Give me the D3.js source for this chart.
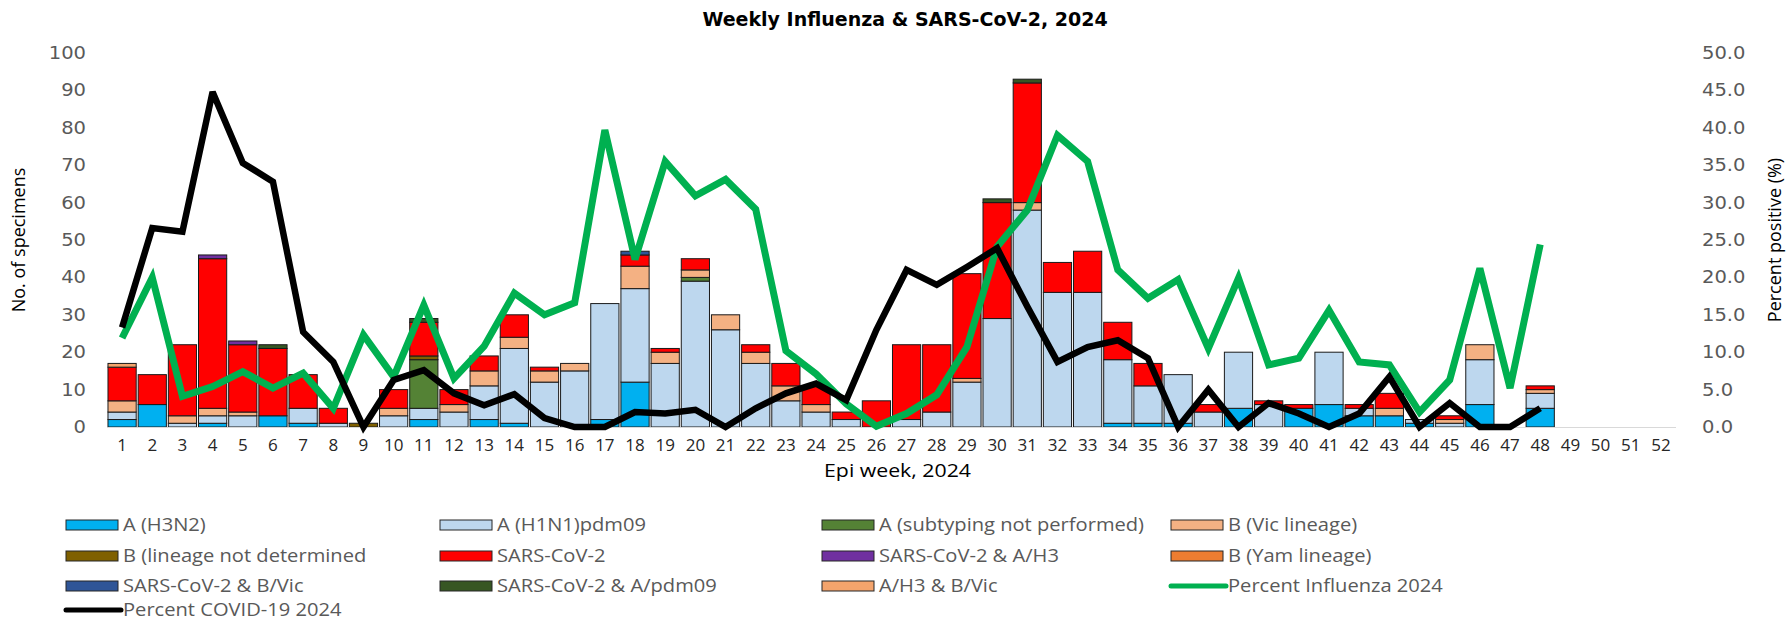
<!DOCTYPE html>
<html>
<head>
<meta charset="utf-8">
<script src="https://cdn.jsdelivr.net/npm/d3@7"></script>
<style>
  body { margin: 0; background: #fff; }
  svg { display: block; }
</style>
</head>
<body>
<svg id="chart" width="1791" height="623"></svg>
<script>
// Weekly influenza & SARS-CoV-2 specimens, 2024 (weeks 49-52 have no data yet)
const weeks = ["1","2","3","4","5","6","7","8","9","10","11","12","13","14","15","16","17","18","19","20",
  "21","22","23","24","25","26","27","28","29","30","31","32","33","34","35","36","37","38","39","40",
  "41","42","43","44","45","46","47","48","49","50","51","52"];

const h3n2      = [2,6,0,1,0,3,1,0,0,0,2,0,2,1,0,0,2,12,0,0,0,0,0,0,0,0,0,0,0,0,0,0,0,1,1,1,0,5,0,5,6,3,3,1,0,6,0,5];
const h1n1      = [2,0,1,2,3,0,4,1,0,3,3,4,9,20,12,15,31,25,17,39,26,17,7,4,2,0,2,4,12,29,58,36,36,17,10,13,4,15,6,0,14,2,0,1,1,12,0,4];
const aUnsub    = [0,0,0,0,0,0,0,0,0,0,13,0,0,0,0,0,0,0,0,1,0,0,0,0,0,0,0,0,0,0,0,0,0,0,0,0,0,0,0,0,0,0,0,0,0,0,0,0];
const bVic      = [3,0,2,2,1,0,0,0,0,2,0,2,4,3,3,2,0,6,3,2,4,3,4,2,0,0,0,0,1,0,2,0,0,0,0,0,0,0,0,0,0,0,2,0,1,4,0,1];
const bNd       = [0,0,0,0,0,0,0,0,1,0,1,0,0,0,0,0,0,0,0,0,0,0,0,0,0,0,0,0,0,0,0,0,0,0,0,0,0,0,0,0,0,0,0,0,0,0,0,0];
const sars      = [9,8,19,40,18,18,9,4,0,5,9,4,4,6,1,0,0,3,1,3,0,2,6,5,2,7,20,18,28,31,32,8,11,10,6,0,2,0,1,1,0,1,4,0,1,0,0,1];
const sarsH3    = [0,0,0,1,1,0,0,0,0,0,0,0,0,0,0,0,0,0,0,0,0,0,0,0,0,0,0,0,0,0,0,0,0,0,0,0,0,0,0,0,0,0,0,0,0,0,0,0];
const bYam      = [0,0,0,0,0,0,0,0,0,0,0,0,0,0,0,0,0,0,0,0,0,0,0,0,0,0,0,0,0,0,0,0,0,0,0,0,0,0,0,0,0,0,0,0,0,0,0,0];
const sarsBVic  = [0,0,0,0,0,0,0,0,0,0,0,0,0,0,0,0,0,1,0,0,0,0,0,0,0,0,0,0,0,0,0,0,0,0,0,0,0,0,0,0,0,0,0,0,0,0,0,0];
const sarsPdm   = [0,0,0,0,0,1,0,0,0,0,1,0,0,0,0,0,0,0,0,0,0,0,0,0,0,0,0,0,0,1,1,0,0,0,0,0,0,0,0,0,0,0,0,0,0,0,0,0];
const h3BVic    = [1,0,0,0,0,0,0,0,0,0,0,0,0,0,0,0,0,0,0,0,0,0,0,0,0,0,0,0,0,0,0,0,0,0,0,0,0,0,0,0,0,0,0,0,0,0,0,0];

const pctFlu    = [11.9,20.0,4.1,5.4,7.4,5.2,7.2,2.5,12.3,6.7,16.3,6.5,10.8,17.9,15.0,16.6,39.7,22.4,35.5,30.9,33.1,29.1,10.2,7.1,
                   3.1,0.1,1.8,4.3,10.7,24.1,29.0,39.0,35.5,21.0,17.2,19.7,10.5,19.9,8.3,9.2,15.6,8.7,8.3,2.0,6.3,21.2,5.2,24.4];
const pctCovid  = [13.3,26.6,26.1,44.8,35.3,32.8,12.7,8.7,0,6.3,7.6,4.5,2.9,4.4,1.2,0,0,2.0,1.8,2.3,0,2.5,4.5,5.8,
                   3.6,13.0,21.0,19.0,21.4,23.9,16.1,8.7,10.7,11.6,9.2,0,5.0,0,3.2,1.8,0,1.8,6.7,0,3.2,0,0,2.5];

const leftTicks  = [0,10,20,30,40,50,60,70,80,90,100];
const rightTicks = [0,5,10,15,20,25,30,35,40,45,50];

const barSeries = [
  { key: "h3n2",     name: "A (H3N2)",                      color: "#00B0F0", values: h3n2 },
  { key: "h1n1",     name: "A (H1N1)pdm09",                 color: "#BDD7EE", values: h1n1 },
  { key: "aUnsub",   name: "A (subtyping not performed)",   color: "#548235", values: aUnsub },
  { key: "bVic",     name: "B (Vic lineage)",               color: "#F4B183", values: bVic },
  { key: "bNd",      name: "B (lineage not determined",     color: "#7F6000", values: bNd },
  { key: "sars",     name: "SARS-CoV-2",                    color: "#FF0000", values: sars },
  { key: "sarsH3",   name: "SARS-CoV-2 & A/H3",             color: "#7030A0", values: sarsH3 },
  { key: "bYam",     name: "B (Yam lineage)",               color: "#ED7D31", values: bYam },
  { key: "sarsBVic", name: "SARS-CoV-2 & B/Vic",            color: "#2F5597", values: sarsBVic },
  { key: "sarsPdm",  name: "SARS-CoV-2 & A/pdm09",          color: "#375623", values: sarsPdm },
  { key: "h3BVic",   name: "A/H3 & B/Vic",                  color: "#F4A46C", values: h3BVic }
];
const lineSeries = [
  { name: "Percent Influenza 2024", color: "#00B050", values: pctFlu, width: 7 },
  { name: "Percent COVID-19 2024",  color: "#000000", values: pctCovid, width: 6.5 }
];

const svg = d3.select("#chart");
svg.append("rect").attr("width", 1791).attr("height", 623).attr("fill", "#fff");

const plotLeft = 107, plotRight = 1676, plotTop = 53, plotBottom = 427;
// the source picture is stretched sideways, so text gets a small horizontal scale
const stretch = 1.15;

const x = d3.scaleBand().domain(weeks).range([plotLeft, plotRight]).paddingInner(0.065).paddingOuter(0.0325);
const yL = d3.scaleLinear().domain([0, 100]).range([plotBottom, plotTop]);
const yR = d3.scaleLinear().domain([0, 50]).range([plotBottom, plotTop]);

// title
svg.append("text")
  .attr("transform", `translate(905,26)`)
  .attr("text-anchor", "middle")
  .attr("font-family", "DejaVu Sans, Verdana, sans-serif")
  .attr("font-weight", "bold")
  .attr("font-size", 19)
  .attr("fill", "#000")
  .text("Weekly Influenza & SARS-CoV-2, 2024");

// stacked bars
const rows = weeks.map((w, i) => {
  const r = { week: w };
  barSeries.forEach(s => { r[s.key] = s.values[i] || 0; });
  return r;
});
const stacked = d3.stack().keys(barSeries.map(s => s.key))(rows);

const layers = svg.append("g").selectAll("g")
  .data(stacked)
  .enter().append("g")
  .attr("fill", (d, i) => barSeries[i].color);

layers.selectAll("rect")
  .data(d => d.filter(p => p[1] - p[0] > 0))
  .enter().append("rect")
  .attr("x", d => x(d.data.week))
  .attr("width", x.bandwidth())
  .attr("y", d => yL(d[1]))
  .attr("height", d => yL(d[0]) - yL(d[1]))
  .attr("stroke", "#1a1a1a")
  .attr("stroke-width", 1);

// x baseline
svg.append("line")
  .attr("x1", plotLeft).attr("x2", plotRight)
  .attr("y1", plotBottom + 0.5).attr("y2", plotBottom + 0.5)
  .attr("stroke", "#D9D9D9").attr("stroke-width", 1);

// percent lines
const weekCenter = i => x(weeks[i]) + x.bandwidth() / 2;
lineSeries.forEach(s => {
  const line = d3.line()
    .defined(d => d != null)
    .x((d, i) => weekCenter(i))
    .y(d => yR(d));
  svg.append("path")
    .datum(s.values)
    .attr("d", line)
    .attr("fill", "none")
    .attr("stroke", s.color)
    .attr("stroke-width", s.width)
    .attr("stroke-linejoin", "miter")
    .attr("stroke-miterlimit", 3);
});

// axes
const tickFont = "DejaVu Sans, Verdana, sans-serif";

const axL = svg.append("g")
  .attr("transform", `translate(86,0)`)
  .call(d3.axisLeft(yL).tickValues(leftTicks).tickSize(0).tickPadding(0).tickFormat(d3.format("d")));
axL.select(".domain").remove();
axL.selectAll("text").attr("font-family", tickFont).attr("font-size", 17).attr("fill", "#595959")
  .attr("transform", `scale(${stretch},1)`);

const axR = svg.append("g")
  .attr("transform", `translate(1702,0)`)
  .call(d3.axisRight(yR).tickValues(rightTicks).tickSize(0).tickPadding(0).tickFormat(d3.format(".1f")));
axR.select(".domain").remove();
axR.selectAll("text").attr("font-family", tickFont).attr("font-size", 17).attr("fill", "#595959")
  .attr("transform", `scale(${stretch},1)`);

const axB = svg.append("g")
  .attr("transform", `translate(0,${plotBottom})`)
  .call(d3.axisBottom(x).tickSize(0).tickPadding(12));
axB.select(".domain").remove();
axB.selectAll("text").attr("font-family", "Open Sans, sans-serif").attr("font-size", 17).attr("fill", "#262626");

// axis titles
const labelFont = "Open Sans, sans-serif";
svg.append("text")
  .attr("transform", `translate(25,240) rotate(-90)`)
  .attr("text-anchor", "middle")
  .attr("font-family", labelFont).attr("font-size", 18).attr("fill", "#000")
  .text("No. of specimens");
svg.append("text")
  .attr("transform", `translate(1781,240) rotate(-90)`)
  .attr("text-anchor", "middle")
  .attr("font-family", labelFont).attr("font-size", 18).attr("fill", "#000")
  .text("Percent positive (%)");
svg.append("text")
  .attr("transform", `translate(${(plotLeft + plotRight) / 2 + 6},477) scale(1.12,1)`)
  .attr("text-anchor", "middle")
  .attr("font-family", labelFont).attr("font-size", 19).attr("fill", "#000")
  .text("Epi week, 2024");

// legend: 4 columns, row-wise
const legendItems = barSeries.map(s => ({ name: s.name, color: s.color, type: "bar" }))
  .concat(lineSeries.map(s => ({ name: s.name, color: s.color, type: "line" })));
const colX = [66, 440, 822, 1171];
const rowY = [525, 556, 586, 610];

const leg = svg.append("g").selectAll("g")
  .data(legendItems)
  .enter().append("g")
  .attr("transform", (d, i) => `translate(${colX[i % 4]},${rowY[Math.floor(i / 4)]})`);

leg.filter(d => d.type === "bar").append("rect")
  .attr("x", 0).attr("y", -5).attr("width", 52).attr("height", 10)
  .attr("fill", d => d.color).attr("stroke", "#262626").attr("stroke-width", 1);
leg.filter(d => d.type === "line").append("line")
  .attr("x1", 0).attr("x2", 55).attr("y1", 0).attr("y2", 0)
  .attr("stroke", d => d.color).attr("stroke-width", 5).attr("stroke-linecap", "round");
leg.append("text")
  .attr("transform", "translate(57,0) scale(1.15,1)")
  .attr("dy", "0.35em")
  .attr("font-family", labelFont).attr("font-size", 17.5).attr("fill", "#595959")
  .text(d => d.name);
</script>
</body>
</html>
